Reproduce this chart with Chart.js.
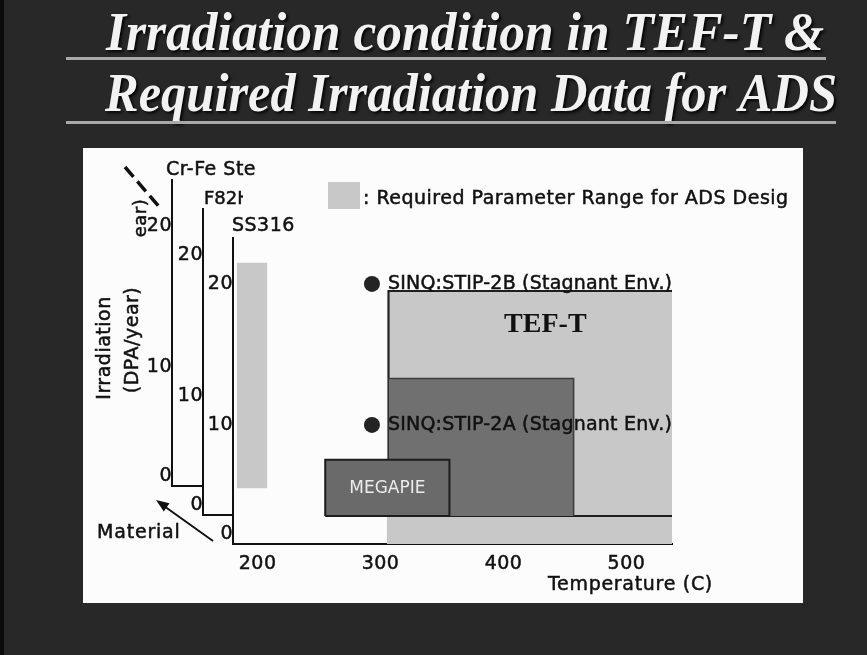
<!DOCTYPE html>
<html>
<head>
<meta charset="utf-8">
<script src="https://cdn.jsdelivr.net/npm/chart.js@4/dist/chart.umd.min.js"></script>
<style>
  html, body { margin: 0; padding: 0; }
  body { width: 867px; height: 655px; background: #282828; position: relative; overflow: hidden; }
  #edge { position: absolute; left: 0; top: 0; width: 4px; height: 655px; background: #0b0b0b; }
  #panel { position: absolute; left: 83px; top: 148px; width: 720px; height: 455px; background: #fcfcfc; }
  canvas { position: absolute; left: 0; top: 0; }
</style>
</head>
<body>
<div id="edge"></div>
<div id="panel"></div>
<canvas id="cardCrFe" width="867" height="655"></canvas>
<canvas id="cardF82H" width="867" height="655"></canvas>
<canvas id="cardSS316" width="867" height="655"></canvas>
<script>
// ---------------- data ----------------
const materials = ['Cr-Fe Ste', 'F82H', 'SS316'];
const irradiationTicks = [0, 10, 20];          // DPA/year
const temperatureTicks = [200, 300, 400, 500]; // C
const temperatureRange = [180, 537];
const irradiationRange = [-0.92, 23.25];

// SINQ irradiation experiments (temperature C, DPA/year)
const sinqNames = ['SINQ:STIP-2B (Stagnant Env.)', 'SINQ:STIP-2A (Stagnant Env.)'];
const sinqTemp = [293, 293];
const sinqDpa = [20, 10];

// Regions: [temperature from, to] and [DPA/year from, to]
const requiredTemp = [183, 208];
const requiredDpa = [4.2, 21.5];
const tefTemp = [305, 560];
const tefDpa = [-1, 19.5];
const tefFrameTemp = [306.5, 560];
const tefFrameDpa = [1.65, 19.5];
const stip2aTemp = [306.5, 457];
const stip2aDpa = [1.65, 13.3];
const megapieTemp = [255, 356];
const megapieDpa = [1.65, 6.8];

// ---------------- scale with stretched upper decade ----------------
// value -> fraction of axis height (the 10-20 decade is drawn taller than 0-10)
const irradiationKnots = [[0, 0.0327], [10, 0.389], [20, 0.850]];

class StretchScale extends Chart.LinearScale {
  _toDecimal(v) {
    const k = irradiationKnots;
    let i = 0;
    while (i < k.length - 2 && v > k[i + 1][0]) i++;
    const [v0, d0] = k[i], [v1, d1] = k[i + 1];
    return d0 + (v - v0) * (d1 - d0) / (v1 - v0);
  }
  _fromDecimal(d) {
    const k = irradiationKnots;
    let i = 0;
    while (i < k.length - 2 && d > k[i + 1][1]) i++;
    const [v0, d0] = k[i], [v1, d1] = k[i + 1];
    return v0 + (d - d0) * (v1 - v0) / (d1 - d0);
  }
  getPixelForValue(value) {
    if (value === null || value === undefined) return NaN;
    return this.getPixelForDecimal(this._toDecimal(value));
  }
  getValueForPixel(pixel) {
    return this._fromDecimal(this.getDecimalForPixel(pixel));
  }
}
StretchScale.id = 'stretch';
StretchScale.defaults = Chart.LinearScale.defaults;
Chart.register(StretchScale);

Chart.defaults.font.family = 'DejaVu Sans';
Chart.defaults.color = '#111';
Chart.defaults.animation = false;
Chart.defaults.events = [];
Chart.defaults.plugins.legend.display = false;
Chart.defaults.plugins.tooltip.enabled = false;

const SANS = '"DejaVu Sans", sans-serif';
const INK = '#111';

function spacedText(chart) {
  chart.ctx.letterSpacing = '0.5px';
}

function yScaleOptions(showTicks) {
  return {
    type: 'stretch',
    min: irradiationRange[0],
    max: irradiationRange[1],
    afterBuildTicks: s => { s.ticks = irradiationTicks.map(v => ({ value: v })); },
    afterFit: s => { s.width = 50; },
    grid: { display: false, drawTicks: false },
    border: { display: true, color: INK, width: 2 },
    ticks: { display: showTicks, color: INK, font: { size: 19 }, padding: 0,
             textStrokeColor: INK, textStrokeWidth: 0.5, callback: v => String(v) }
  };
}

function xScaleOptions(showTicks, height) {
  return {
    type: 'linear',
    min: temperatureRange[0],
    max: temperatureRange[1],
    afterBuildTicks: s => { s.ticks = temperatureTicks.map(v => ({ value: v })); },
    afterFit: s => { s.height = height; },
    grid: { display: false, drawTicks: false },
    border: { display: true, color: INK, width: 2 },
    ticks: { display: showTicks, color: INK, font: { size: 19 }, padding: 9, maxRotation: 0, autoSkip: false,
             textStrokeColor: INK, textStrokeWidth: 0.5 }
  };
}

function text(ctx, str, x, y, opts = {}) {
  ctx.save();
  ctx.font = opts.font || ('19px ' + SANS);
  ctx.fillStyle = opts.color || INK;
  ctx.textAlign = opts.align || 'left';
  ctx.textBaseline = 'middle';
  ctx.letterSpacing = opts.spacing || '0.5px';
  ctx.translate(x, y);
  if (opts.rotate) ctx.rotate(opts.rotate);
  ctx.fillText(str, 0, 0);
  if (opts.stroke !== 0) {
    ctx.strokeStyle = opts.color || INK;
    ctx.lineWidth = opts.stroke || 0.5;
    ctx.strokeText(str, 0, 0);
  }
  ctx.restore();
}

// ---------------- back material cards ----------------
function backCard(id, name, area, clipRight, labelOpts, extras) {
  new Chart(document.getElementById(id), {
    type: 'scatter',
    data: { datasets: [] },
    options: {
      responsive: false,
      devicePixelRatio: 1,
      layout: { padding: { left: area.left - 50, right: 867 - area.right, top: area.top, bottom: 655 - area.bottom - 4 } },
      scales: { x: xScaleOptions(false, 4), y: yScaleOptions(true) }
    },
    plugins: [{
      id: 'cardLabel',
      beforeDraw: spacedText,
      afterDraw(chart) {
        const ctx = chart.ctx, ca = chart.chartArea;
        ctx.save();
        if (clipRight) { ctx.beginPath(); ctx.rect(0, 0, clipRight, 655); ctx.clip(); }
        text(ctx, name, ca.left + area.labelDx, ca.top - 10, labelOpts);
        ctx.restore();
        if (extras) extras(ctx);
      }
    }]
  });
}

backCard('cardCrFe', materials[0], { left: 172, right: 203, top: 180, bottom: 486, labelDx: -6 }, null, {}, ctx => {
  // depth direction of the material axis
  ctx.save();
  ctx.strokeStyle = INK; ctx.lineWidth = 3.5; ctx.setLineDash([13, 6]);
  ctx.beginPath(); ctx.moveTo(125, 167); ctx.lineTo(161, 209); ctx.stroke();
  ctx.restore();
  text(ctx, 'ear)', 141, 218, { align: 'center', rotate: -Math.PI / 2, font: '18px ' + SANS });
});
backCard('cardF82H', materials[1], { left: 203, right: 233, top: 209, bottom: 515, labelDx: 1 }, 243,
         { font: '18px ' + SANS, spacing: '0px' });

// ---------------- front card (SS316) with the irradiation data ----------------
const pt = (t, v) => ({ x: t, y: v });
const band = (temps, dpa, color) => ({
  data: [pt(temps[0], dpa[1]), pt(temps[1], dpa[1])],
  showLine: true, borderWidth: 0, pointRadius: 0,
  fill: { value: dpa[0] }, backgroundColor: color
});
const outline = (points, color, width) => ({
  data: points, showLine: true, borderColor: color, borderWidth: width,
  pointRadius: 0, fill: false
});

const LIGHT = '#c8c8c8';
const DARK = '#707070';

const front = new Chart(document.getElementById('cardSS316'), {
  type: 'scatter',
  data: {
    datasets: [
      { data: sinqTemp.map((t, i) => pt(t, sinqDpa[i])), pointRadius: 8, pointBackgroundColor: '#242424',
        pointBorderWidth: 0, showLine: false },
      outline([pt(megapieTemp[0], megapieDpa[0]), pt(megapieTemp[0], megapieDpa[1]), pt(megapieTemp[1], megapieDpa[1]),
               pt(megapieTemp[1], megapieDpa[0]), pt(megapieTemp[0], megapieDpa[0])], '#1c1c1c', 2),
      band(megapieTemp, megapieDpa, '#6a6a6a'),
      outline([pt(stip2aTemp[0], stip2aDpa[1]), pt(stip2aTemp[1], stip2aDpa[1]), pt(stip2aTemp[1], stip2aDpa[0])], '#3c3c3c', 1.5),
      band(stip2aTemp, stip2aDpa, DARK),
      outline([pt(tefFrameTemp[1], tefFrameDpa[0]), pt(tefFrameTemp[0], tefFrameDpa[0]), pt(tefFrameTemp[0], tefFrameDpa[1]),
               pt(tefFrameTemp[1], tefFrameDpa[1])], '#1e1e1e', 2),
      band(tefTemp, tefDpa, LIGHT),
      band(requiredTemp, requiredDpa, LIGHT)
    ]
  },
  options: {
    responsive: false,
    devicePixelRatio: 1,
    layout: { padding: { left: 183, right: 195, top: 238, bottom: 71 } },
    scales: { x: xScaleOptions(true, 40), y: yScaleOptions(true) }
  },
  plugins: [{
    id: 'annotations',
    beforeDraw: spacedText,
    afterDatasetsDraw(chart) {
      const ctx = chart.ctx, ca = chart.chartArea;
      const xs = chart.scales.x, ys = chart.scales.y;
      ctx.save();
      ctx.beginPath(); ctx.rect(ca.left, ca.top - 30, ca.right - ca.left, ca.bottom - ca.top + 30); ctx.clip();
      chart.getDatasetMeta(0).data.forEach((el, i) => {
        text(ctx, sinqNames[i], el.x + 16, el.y, { spacing: '0.2px' });
      });
      text(ctx, 'TEF-T', xs.getPixelForValue(434), ys.getPixelForValue(17.1),
           { align: 'center', font: 'bold 28px "Liberation Serif", serif', spacing: '0px', stroke: 0 });
      text(ctx, 'MEGAPIE', (xs.getPixelForValue(megapieTemp[0]) + xs.getPixelForValue(megapieTemp[1])) / 2,
           (ys.getPixelForValue(megapieDpa[0]) + ys.getPixelForValue(megapieDpa[1])) / 2 + 1,
           { align: 'center', font: '17px ' + SANS, color: '#ececec', spacing: '0px', stroke: 0 });
      ctx.restore();
    },
    afterDraw(chart) {
      const ctx = chart.ctx, ca = chart.chartArea;
      // card label
      text(ctx, materials[2], ca.left - 1, ca.top - 12);
      // axis titles
      text(ctx, 'Irradiation', 105, 348, { align: 'center', rotate: -Math.PI / 2 });
      text(ctx, '(DPA/year)', 133, 340, { align: 'center', rotate: -Math.PI / 2 });
      text(ctx, 'Temperature (C)', 548, 585, { spacing: '0.7px' });
      text(ctx, 'Material', 97, 533, { spacing: '0.8px' });
      // material arrow
      ctx.save();
      ctx.strokeStyle = INK; ctx.fillStyle = INK; ctx.lineWidth = 2;
      ctx.beginPath(); ctx.moveTo(213, 541); ctx.lineTo(164, 506); ctx.stroke();
      const ang = Math.atan2(501 - 541, 156 - 213);
      ctx.beginPath();
      ctx.moveTo(156, 500);
      ctx.lineTo(156 - 13 * Math.cos(ang) + 5 * Math.sin(ang), 500 - 13 * Math.sin(ang) - 5 * Math.cos(ang));
      ctx.lineTo(156 - 13 * Math.cos(ang) - 5 * Math.sin(ang), 500 - 13 * Math.sin(ang) + 5 * Math.cos(ang));
      ctx.closePath(); ctx.fill();
      ctx.restore();
      // legend
      ctx.fillStyle = LIGHT;
      ctx.fillRect(328, 182, 32, 27);
      text(ctx, ': Required Parameter Range for ADS Desig', 363, 199, { spacing: '0.5px' });
      // slide title
      drawTitle(ctx, 'Irradiation condition in TEF-T &', 465, 50, 718);
      drawTitle(ctx, 'Required Irradiation Data for ADS', 471, 111, 732);
      ctx.fillStyle = '#a9a9a9';
      ctx.fillRect(66, 57, 760, 3);
      ctx.fillRect(66, 121, 770, 3);
    }
  }]
});

function drawTitle(ctx, str, cx, baseline, targetWidth) {
  ctx.save();
  ctx.letterSpacing = '0px';
  ctx.font = 'italic bold 55px "Liberation Serif", serif';
  const w = ctx.measureText(str).width;
  ctx.translate(cx, baseline);
  ctx.scale(targetWidth / w, 1);
  ctx.textAlign = 'center';
  ctx.textBaseline = 'alphabetic';
  ctx.shadowColor = 'rgba(0,0,0,0.9)';
  ctx.shadowOffsetX = 2; ctx.shadowOffsetY = 2; ctx.shadowBlur = 3;
  ctx.fillStyle = '#f2f2f2';
  ctx.fillText(str, 0, 0);
  ctx.restore();
}
</script>
</body>
</html>
